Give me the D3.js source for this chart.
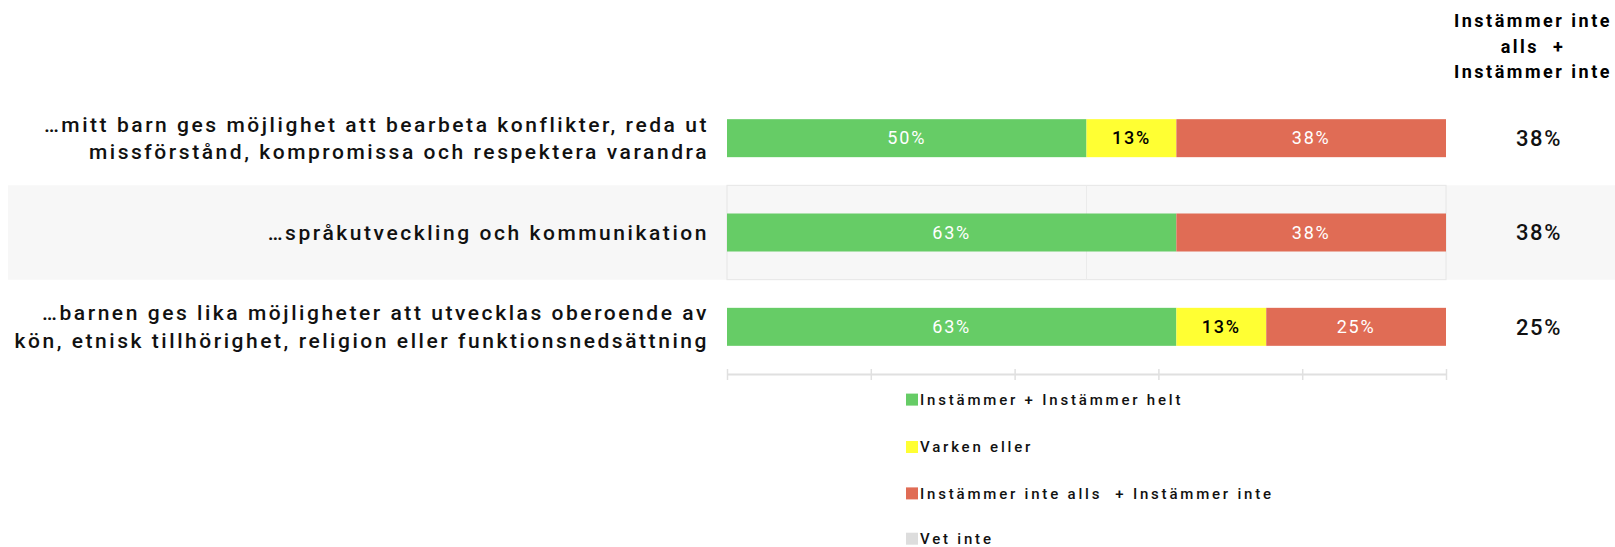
<!DOCTYPE html>
<html>
<head>
<meta charset="utf-8">
<script src="https://cdn.jsdelivr.net/npm/d3@7"></script>
<style>
  html, body { margin: 0; padding: 0; background: #fff; }
  svg { display: block; }
  text { white-space: pre; }
</style>
</head>
<body>
<svg id="chart" width="1615" height="547"></svg>
<script>
// ---- data ----
const categories = [
  ["…mitt barn ges möjlighet att bearbeta konflikter, reda ut", "missförstånd, kompromissa och respektera varandra"],
  ["…språkutveckling och kommunikation"],
  ["…barnen ges lika möjligheter att utvecklas oberoende av", "kön, etnisk tillhörighet, religion eller funktionsnedsättning"]
];
const seriesNames = ["Instämmer + Instämmer helt", "Varken eller", "Instämmer inte alls  + Instämmer inte", "Vet inte"];
const agree    = [50, 62.5, 62.5];
const neutral  = [12.5, 0, 12.5];
const disagree = [37.5, 37.5, 25];
const dontKnow = [0, 0, 0];
const sideValues = ["38%", "38%", "25%"];
const sideHeader = ["Instämmer inte", "alls  +", "Instämmer inte"];
const xTicks = [0, 20, 40, 60, 80, 100];
const colors = ["#66cc66", "#ffff33", "#e06c55", "#dddddd"];
const labelColors = ["#ffffff", "#000000", "#ffffff", "#000000"];

// ---- setup ----
const svg = d3.select("#chart");
const W = 1615, H = 547;
const x = d3.scaleLinear().domain([0, 100]).range([727, 1446]);
const rowIds = categories.map((d, i) => i);
const y = d3.scaleBand().domain(rowIds).range([91, 374]).paddingInner(0);
const barH = 38;

const font = "Roboto, 'Liberation Sans', Arial, sans-serif";

// alternating row background (2nd row)
rowIds.forEach(i => {
  if (i % 2 === 1) {
    svg.append("rect")
      .attr("x", 8).attr("y", y(i))
      .attr("width", W - 8).attr("height", y.bandwidth())
      .attr("fill", "#f7f7f7");
    svg.append("rect")
      .attr("x", x(0)).attr("y", y(i))
      .attr("width", x(100) - x(0)).attr("height", y.bandwidth())
      .attr("fill", "none").attr("stroke", "#e6e6e6").attr("stroke-width", 1);
    svg.append("line")
      .attr("x1", x(50)).attr("x2", x(50))
      .attr("y1", y(i)).attr("y2", y(i) + y.bandwidth())
      .attr("stroke", "#ebebeb");
  }
});

// stacked data
const seriesVals = [agree, neutral, disagree, dontKnow];
const table = rowIds.map(i => {
  const o = { row: i };
  seriesNames.forEach((s, k) => o[s] = seriesVals[k][i]);
  return o;
});
const stack = d3.stack().keys(seriesNames);
const stacked = stack(table);

const gBars = svg.append("g");
stacked.forEach((layer, k) => {
  const g = gBars.append("g");
  layer.forEach(seg => {
    const v = seg[1] - seg[0];
    if (v <= 0) return;
    const row = seg.data.row;
    const yc = y(row) + y.bandwidth() / 2;
    g.append("rect")
      .attr("x", x(seg[0])).attr("y", yc - barH / 2)
      .attr("width", x(seg[1]) - x(seg[0])).attr("height", barH)
      .attr("fill", colors[k]);
    g.append("text")
      .attr("x", (x(seg[0]) + x(seg[1])) / 2).attr("y", yc)
      .attr("dy", "0.35em")
      .attr("text-anchor", "middle")
      .attr("font-family", font)
      .attr("font-size", 18)
      .attr("letter-spacing", 1.8)
      .attr("font-weight", k === 1 ? 500 : 400)
      .attr("fill", labelColors[k])
      .text(Math.round(v) + "%");
  });
});

// axis
const axis = d3.axisBottom(x).tickValues(xTicks).tickSize(0).tickFormat("");
const gAxis = svg.append("g").attr("transform", `translate(0,${y.range()[1]})`).call(axis);
gAxis.select(".domain").attr("stroke", "#e0e0e0").attr("stroke-width", 2);
gAxis.selectAll(".tick line").attr("y1", -5).attr("y2", 6).attr("stroke", "#e0e0e0").attr("stroke-width", 1.5);

// category labels
const lineH = 27.5;
rowIds.forEach(i => {
  const lines = categories[i];
  const yc = y(i) + y.bandwidth() / 2;
  const t = svg.append("text")
    .attr("text-anchor", "end")
    .attr("font-family", font)
    .attr("font-weight", 500)
    .attr("font-size", 21)
    .attr("letter-spacing", 2.55)
    .attr("fill", "#111");
  lines.forEach((ln, j) => {
    t.append("tspan")
      .attr("x", 709)
      .attr("y", yc + (j - (lines.length - 1) / 2) * lineH)
      .attr("dy", "0.35em")
      .text(ln);
  });
});

// side values
rowIds.forEach(i => {
  svg.append("text")
    .attr("x", 1539).attr("y", y(i) + y.bandwidth() / 2)
    .attr("dy", "0.35em")
    .attr("text-anchor", "middle")
    .attr("font-family", font)
    .attr("font-weight", 500)
    .attr("font-size", 22)
    .attr("letter-spacing", 1.6)
    .attr("fill", "#111")
    .text(sideValues[i]);
});

// side header
sideHeader.forEach((ln, j) => {
  svg.append("text")
    .attr("x", 1533).attr("y", 20.6 + j * 25.7)
    .attr("dy", "0.35em")
    .attr("text-anchor", "middle")
    .attr("font-family", font)
    .attr("font-weight", "bold")
    .attr("font-size", 18)
    .attr("letter-spacing", 2.5)
    .attr("fill", "#000")
    .text(ln);
});

// legend
const legY = [399.6, 447, 493.4, 538.7];
seriesNames.forEach((s, k) => {
  const g = svg.append("g").attr("transform", `translate(906,${legY[k]})`);
  g.append("rect").attr("x", 0).attr("y", -6).attr("width", 12).attr("height", 12).attr("fill", colors[k]);
  g.append("text")
    .attr("x", 14).attr("y", 0).attr("dy", "0.35em")
    .attr("font-family", font)
    .attr("font-weight", 500)
    .attr("font-size", 15)
    .attr("letter-spacing", 2.8)
    .attr("fill", "#111")
    .text(s);
});
</script>
</body>
</html>
